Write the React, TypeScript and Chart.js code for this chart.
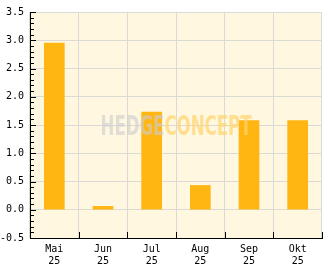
import React, { useEffect, useRef } from "react";
import { Chart, registerables } from "chart.js";

Chart.register(...registerables);

const monthLabels = ["Mai", "Jun", "Jul", "Aug", "Sep", "Okt"];
const yearLabels = ["25", "25", "25", "25", "25", "25"];
const values = [2.95, 0.06, 1.73, 0.43, 1.58, 1.58];
const yMin = -0.5;
const yMax = 3.5;
const yMajorStep = 0.5;
const yMinorStep = 0.1;
const watermarkParts = ["HEDGE", "CONCEPT"];

const FONT = '"DejaVu Sans Mono", monospace';

const decoPlugin = {
  id: "deco",
  beforeDraw(chart: any) {
    const { ctx, chartArea } = chart;
    ctx.save();
    ctx.fillStyle = "#ffffff";
    ctx.fillRect(0, 0, chart.width, chart.height);
    ctx.fillStyle = "#FFF7E0";
    ctx.fillRect(chartArea.left, chartArea.top, chartArea.right - chartArea.left, chartArea.bottom - chartArea.top);
    ctx.restore();
  },
  afterDatasetsDraw(chart: any) {
    const { ctx, chartArea } = chart;
    const y = chart.scales.y;
    const x = chart.scales.x;
    ctx.save();
    // watermark
    ctx.font = 'bold 26px "DejaVu Sans Condensed", "Liberation Sans Narrow", sans-serif';
    ctx.textBaseline = "alphabetic";
    const w0 = ctx.measureText(watermarkParts[0]).width;
    const w1 = ctx.measureText(watermarkParts[1]).width;
    const target = 151;
    const sx = target / (w0 + w1);
    const cx = (chartArea.left + chartArea.right) / 2;
    const cy = (chartArea.top + chartArea.bottom) / 2;
    ctx.translate(cx - target / 2, cy + 9.5);
    ctx.scale(sx, 1);
    ctx.fillStyle = "rgba(205,205,205,0.62)";
    ctx.fillText(watermarkParts[0], 0, 0);
    ctx.fillStyle = "rgba(255,212,110,0.72)";
    ctx.fillText(watermarkParts[1], w0, 0);
    ctx.restore();

    // ticks pointing inward
    ctx.save();
    ctx.strokeStyle = "#000";
    ctx.lineWidth = 1;
    ctx.beginPath();
    const n = Math.round((yMax - yMin) / yMinorStep);
    for (let i = 0; i <= n; i++) {
      const v = yMin + i * yMinorStep;
      const py = Math.round(y.getPixelForValue(v)) + 0.5;
      const major = Math.abs(v / yMajorStep - Math.round(v / yMajorStep)) < 1e-6;
      const len = major ? 6 : 4;
      ctx.moveTo(chartArea.left, py);
      ctx.lineTo(chartArea.left + len, py);
    }
    const nc = monthLabels.length;
    for (let i = 1; i <= nc; i++) {
      const px = Math.round(x.getPixelForValue(i - 0.5)) + 0.5;
      ctx.moveTo(px, chartArea.bottom);
      ctx.lineTo(px, chartArea.bottom - 6);
    }
    ctx.stroke();
    ctx.restore();
  },
};

export default function App() {
  const ref = useRef<HTMLCanvasElement>(null);
  useEffect(() => {
    document.body.style.margin = "0";
    const chart = new Chart(ref.current!, {
      type: "bar",
      data: {
        labels: monthLabels.map((m, i) => [m, yearLabels[i]]),
        datasets: [
          {
            data: values,
            backgroundColor: "#FFB612",
            borderWidth: 0,
            barThickness: 20,
          },
        ],
      },
      options: {
        animation: false,
        responsive: false,
        layout: { padding: { left: 0, top: 10, right: 10, bottom: 0 } },
        plugins: { legend: { display: false }, tooltip: { enabled: false } },
        scales: {
          x: {
            afterFit: (s: any) => {
              s.height = 31;
            },
            grid: { color: "#DCDAD4", drawTicks: false, offset: true },
            border: { color: "#000", width: 1 },
            ticks: { color: "#000", font: { family: FONT, size: 10 }, padding: 5, maxRotation: 0 },
          },
          y: {
            min: yMin,
            max: yMax,
            afterFit: (s: any) => {
              s.width = 30;
            },
            grid: { color: "#DCDAD4", drawTicks: false },
            border: { color: "#000", width: 1 },
            ticks: {
              stepSize: yMajorStep,
              color: "#000",
              font: { family: FONT, size: 10 },
              padding: 6,
              callback: (v: any) => Number(v).toFixed(1),
            },
          },
        },
      },
      plugins: [decoPlugin],
    });
    return () => chart.destroy();
  }, []);
  return (
    <div style={{ width: 332, height: 269 }}>
      <canvas ref={ref} width={332} height={269} />
    </div>
  );
}
